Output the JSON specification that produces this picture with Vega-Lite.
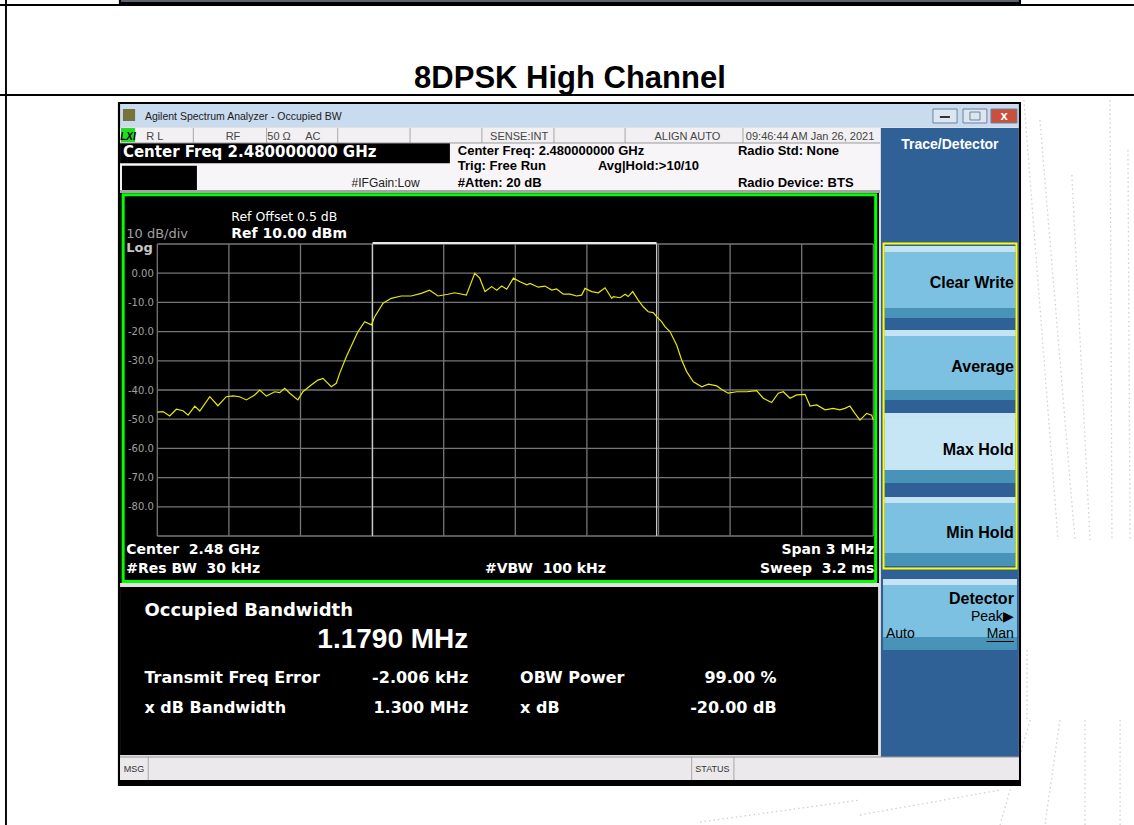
{
"$schema": "https://vega.github.io/schema/vega-lite/v6.json",
"width": 716, "height": 292,
"autosize": {"type": "none"},
"padding": {"left": 157.3, "top": 244, "right": 260.7, "bottom": 289},
"background": "white",
"config": {"view": {"stroke": null}},
"encoding": {
  "x": {"field": "f", "type": "quantitative", "scale": {"domain": [-1.5, 1.5], "nice": false, "zero": false}, "axis": null},
  "y": {"field": "db", "type": "quantitative", "scale": {"domain": [-90, 10], "nice": false, "zero": false},
        "axis": {"title": null, "values": [0, -10, -20, -30, -40, -50, -60, -70, -80], "labelExpr": "datum.value == 0 ? '0.00' : datum.value + '.0'", "labelFont": "DejaVu Sans", "labelFontSize": 10, "labelColor": "#a0a0a0", "domain": false, "ticks": false, "grid": false, "labelPadding": 4, "zindex": 1}}
},
"layer": [
  {"data": {"values": [
    {"f": 2.131, "f2": 2.274, "db": 59.32, "db2": -91.37},
    {"f": 2.198, "f2": 2.345, "db": 52.47, "db2": -91.37},
    {"f": 2.332, "f2": 2.408, "db": 33.63, "db2": -91.37},
    {"f": 2.492, "f2": 2.500, "db": 59.32, "db2": -91.37},
    {"f": 2.567, "f2": 2.576, "db": 42.19, "db2": -91.37},
    {"f": 2.144, "f2": 2.144, "db": -129.04, "db2": -153.01},
    {"f": 2.157, "f2": 2.031, "db": -153.01, "db2": -188.97},
    {"f": 2.282, "f2": 2.219, "db": -153.01, "db2": -188.97},
    {"f": 2.387, "f2": 2.387, "db": -153.01, "db2": -188.97},
    {"f": 2.534, "f2": 2.534, "db": -153.01, "db2": -188.97},
    {"f": 0.774, "f2": 1.444, "db": -187.95, "db2": -180.41},
    {"f": 1.444, "f2": 2.031, "db": -185.55, "db2": -176.99}
  ]},
   "mark": {"type": "rule", "color": "#d0d0d0", "strokeWidth": 1.3, "strokeDash": [1.5, 3]},
   "encoding": {"x2": {"field": "f2"}, "y2": {"field": "db2"}}},
  {"data": {"values": [
    {"f": -2.159, "f2": 2.592, "db": 92.19, "db2": 91.51, "part": "black"},
    {"f": -1.661, "f2": 2.119, "db": 93.56, "db2": 91.85, "part": "black"},
    {"f": -1.652, "f2": 2.110, "db": 93.56, "db2": 92.88, "part": "bar"},
    {"f": -2.159, "f2": 2.592, "db": 61.37, "db2": 60.69, "part": "black"},
    {"f": -2.138, "f2": -2.130, "db": 93.56, "db2": -188.97, "part": "black"},
    {"f": -1.665, "f2": 2.119, "db": 58.63, "db2": -175.62, "part": "black"},
    {"f": -1.656, "f2": 2.110, "db": 57.95, "db2": 50.07, "part": "titlebar"},
    {"f": -1.656, "f2": 2.110, "db": 50.07, "db2": -173.56, "part": "light"},
    {"f": -1.656, "f2": 1.528, "db": 49.73, "db2": 44.59, "part": "status"},
    {"f": -1.656, "f2": 1.528, "db": 44.59, "db2": 28.49, "part": "row2"},
    {"f": -1.656, "f2": -0.274, "db": 44.59, "db2": 37.64, "part": "black"},
    {"f": -1.648, "f2": -1.334, "db": 36.81, "db2": 28.25, "part": "black"},
    {"f": -1.656, "f2": 1.528, "db": 28.49, "db2": 27.47, "part": "band2"},
    {"f": -1.656, "f2": 1.524, "db": 27.47, "db2": -106.10, "part": "black"},
    {"f": -1.656, "f2": 1.520, "db": -107.47, "db2": -165.00, "part": "black"},
    {"f": 1.532, "f2": 2.110, "db": 49.73, "db2": -165.69, "part": "panel"},
    {"f": 1.547, "f2": 2.096, "db": 9.31, "db2": -11.92, "part": "btn"},
    {"f": 1.547, "f2": 2.096, "db": 9.31, "db2": 7.26, "part": "hl"},
    {"f": 1.547, "f2": 2.096, "db": -11.92, "db2": -15.34, "part": "band"},
    {"f": 1.547, "f2": 2.096, "db": -19.45, "db2": -40.00, "part": "btn"},
    {"f": 1.547, "f2": 2.096, "db": -19.45, "db2": -21.51, "part": "hl"},
    {"f": 1.547, "f2": 2.096, "db": -40.00, "db2": -43.42, "part": "band"},
    {"f": 1.547, "f2": 2.096, "db": -47.88, "db2": -67.40, "part": "sel"},
    {"f": 1.547, "f2": 2.096, "db": -47.88, "db2": -49.93, "part": "hl"},
    {"f": 1.547, "f2": 2.096, "db": -67.40, "db2": -71.85, "part": "band"},
    {"f": 1.547, "f2": 2.096, "db": -76.64, "db2": -95.82, "part": "btn"},
    {"f": 1.547, "f2": 2.096, "db": -76.64, "db2": -78.70, "part": "hl"},
    {"f": 1.547, "f2": 2.096, "db": -95.82, "db2": -100.27, "part": "band"},
    {"f": 1.541, "f2": 2.102, "db": -104.73, "db2": -124.59, "part": "btn"},
    {"f": 1.541, "f2": 2.102, "db": -104.73, "db2": -106.78, "part": "hl"},
    {"f": 1.541, "f2": 2.102, "db": -124.59, "db2": -129.04, "part": "band"},
    {"f": -1.656, "f2": 2.110, "db": -165.69, "db2": -173.56, "part": "statusbar"},
    {"f": -1.652, "f2": -1.593, "db": 49.73, "db2": 44.93, "part": "lxi"},
    {"f": -1.644, "f2": -1.593, "db": 56.23, "db2": 52.12, "part": "icon"},
    {"f": 1.750, "f2": 1.851, "db": 56.23, "db2": 51.44, "part": "winbtn"},
    {"f": 1.876, "f2": 1.976, "db": 56.23, "db2": 51.44, "part": "winbtn"},
    {"f": 1.993, "f2": 2.102, "db": 56.23, "db2": 51.44, "part": "close"},
    {"f": 1.779, "f2": 1.821, "db": 53.84, "db2": 53.15, "part": "glyph"}
  ]},
   "mark": {"type": "rect"},
   "encoding": {
     "x2": {"field": "f2"}, "y2": {"field": "db2"},
     "fill": {"field": "part", "type": "nominal", "legend": null, "scale": {
       "domain": ["black", "bar", "titlebar", "light", "status", "row2", "band2", "panel", "btn", "hl", "band", "sel", "statusbar", "lxi", "icon", "winbtn", "close", "glyph"],
       "range": ["#000000", "#5c6470", "#c9dbef", "#e2e0e2", "#f2f0f2", "#f7f5f7", "#a4a4a4", "#2f6096", "#7cc1e1", "#c4e4f4", "#4a93b8", "#c6e6f6", "#ebe9eb", "#22dd22", "#77733a", "#dce6f1", "#c9503c", "#333333"]}}
   }},
  {"data": {"values": [
    {"f": 1.750, "f2": 1.851, "db": 56.23, "db2": 51.44},
    {"f": 1.876, "f2": 1.976, "db": 56.23, "db2": 51.44},
    {"f": 1.993, "f2": 2.102, "db": 56.23, "db2": 51.44},
    {"f": 1.905, "f2": 1.947, "db": 55.19, "db2": 52.47}
  ]},
   "mark": {"type": "rect", "filled": false, "color": "#6f829a", "strokeWidth": 1},
   "encoding": {"x2": {"field": "f2"}, "y2": {"field": "db2"}}},
  {"data": {"values": [{"f": -1.643, "f2": 1.510, "db": 26.88, "db2": -105.58}]},
   "mark": {"type": "rect", "filled": false, "color": "#00ff00", "strokeWidth": 3},
   "encoding": {"x2": {"field": "f2"}, "y2": {"field": "db2"}}},
  {"data": {"values": [{"f": 1.543, "f2": 2.100, "db": 10.17, "db2": -101.13}]},
   "mark": {"type": "rect", "filled": false, "color": "#ffff00", "strokeWidth": 2},
   "encoding": {"x2": {"field": "f2"}, "y2": {"field": "db2"}}},
  {"data": {"values": [
    {"f": -1.349, "db": 49.73, "db2": 44.59}, {"f": -1.042, "db": 49.73, "db2": 44.59},
    {"f": -0.744, "db": 49.73, "db2": 44.59}, {"f": -0.441, "db": 49.73, "db2": 44.59},
    {"f": -0.140, "db": 49.73, "db2": 44.59}, {"f": 0.162, "db": 49.73, "db2": 44.59},
    {"f": 0.460, "db": 49.73, "db2": 44.59}, {"f": 0.954, "db": 49.73, "db2": 44.59},
    {"f": -1.538, "db": -165.69, "db2": -173.56}, {"f": 0.739, "db": -165.69, "db2": -173.56},
    {"f": 0.916, "db": -165.69, "db2": -173.56}
  ]},
   "mark": {"type": "rule", "color": "#a8a8a8", "strokeWidth": 1},
   "encoding": {"y2": {"field": "db2"}}},
  {"data": {"values": [
    {"f": -1.656, "f2": 1.528, "db": 44.59}, {"f": -1.656, "f2": 2.110, "db": -165.69}
  ]},
   "mark": {"type": "rule", "color": "#9a9a9a", "strokeWidth": 1},
   "encoding": {"x2": {"field": "f2"}}},
  {"data": {"values": [
    {"f": -1.5, "db": 10, "db2": -90}, {"f": -1.2, "db": 10, "db2": -90}, {"f": -0.9, "db": 10, "db2": -90},
    {"f": -0.6, "db": 10, "db2": -90}, {"f": -0.3, "db": 10, "db2": -90}, {"f": 0, "db": 10, "db2": -90},
    {"f": 0.3, "db": 10, "db2": -90}, {"f": 0.6, "db": 10, "db2": -90}, {"f": 0.9, "db": 10, "db2": -90},
    {"f": 1.2, "db": 10, "db2": -90}, {"f": 1.5, "db": 10, "db2": -90}
  ]},
   "mark": {"type": "rule", "color": "#767676", "strokeWidth": 1.3},
   "encoding": {"y2": {"field": "db2"}}},
  {"data": {"values": [
    {"db": 10, "f": -1.5, "f2": 1.5}, {"db": 0, "f": -1.5, "f2": 1.5}, {"db": -10, "f": -1.5, "f2": 1.5},
    {"db": -20, "f": -1.5, "f2": 1.5}, {"db": -30, "f": -1.5, "f2": 1.5}, {"db": -40, "f": -1.5, "f2": 1.5},
    {"db": -50, "f": -1.5, "f2": 1.5}, {"db": -60, "f": -1.5, "f2": 1.5}, {"db": -70, "f": -1.5, "f2": 1.5},
    {"db": -80, "f": -1.5, "f2": 1.5}, {"db": -90, "f": -1.5, "f2": 1.5}
  ]},
   "mark": {"type": "rule", "color": "#767676", "strokeWidth": 1.3},
   "encoding": {"x2": {"field": "f2"}}},
  {"data": {"values": [{"f": -0.598, "db": 10, "db2": -90}, {"f": 0.592, "db": 10, "db2": -90}]},
   "mark": {"type": "rule", "color": "#c8c8c8", "strokeWidth": 1.2},
   "encoding": {"y2": {"field": "db2"}}},
  {"data": {"values": [{"f": -0.598, "f2": 0.592, "db": 10.35}]},
   "mark": {"type": "rule", "color": "#e8e8e8", "strokeWidth": 2},
   "encoding": {"x2": {"field": "f2"}}},
  {"data": {"values": [{"f": 1.975, "f2": 2.089, "db": -126.13}]},
   "mark": {"type": "rule", "color": "#000000", "strokeWidth": 1},
   "encoding": {"x2": {"field": "f2"}}},
  {"data": {"values": [
    {"f": -1.5, "db": -47.6}, {"f": -1.476, "db": -47.4}, {"f": -1.448, "db": -48.9}, {"f": -1.42, "db": -46.6},
    {"f": -1.392, "db": -47.1}, {"f": -1.371, "db": -48.6}, {"f": -1.343, "db": -45.5}, {"f": -1.322, "db": -47.2},
    {"f": -1.28, "db": -42.3}, {"f": -1.246, "db": -45.4}, {"f": -1.211, "db": -42.3}, {"f": -1.183, "db": -42.0},
    {"f": -1.155, "db": -42.3}, {"f": -1.127, "db": -43.4}, {"f": -1.092, "db": -41.7}, {"f": -1.071, "db": -40.0},
    {"f": -1.043, "db": -42.1}, {"f": -1.008, "db": -40.6}, {"f": -0.987, "db": -40.9}, {"f": -0.966, "db": -39.4},
    {"f": -0.945, "db": -41.1}, {"f": -0.911, "db": -43.4}, {"f": -0.89, "db": -40.6}, {"f": -0.855, "db": -38.3},
    {"f": -0.827, "db": -36.6}, {"f": -0.806, "db": -36.0}, {"f": -0.771, "db": -38.9}, {"f": -0.75, "db": -37.7},
    {"f": -0.736, "db": -34.3}, {"f": -0.708, "db": -28.6}, {"f": -0.659, "db": -20.0}, {"f": -0.631, "db": -16.6},
    {"f": -0.603, "db": -17.7}, {"f": -0.589, "db": -14.9}, {"f": -0.554, "db": -10.3}, {"f": -0.52, "db": -8.6},
    {"f": -0.478, "db": -7.8}, {"f": -0.436, "db": -7.8}, {"f": -0.394, "db": -6.9}, {"f": -0.359, "db": -5.8},
    {"f": -0.324, "db": -7.8}, {"f": -0.282, "db": -7.2}, {"f": -0.254, "db": -6.7}, {"f": -0.205, "db": -7.5},
    {"f": -0.17, "db": 0.0}, {"f": -0.149, "db": -1.7}, {"f": -0.127, "db": -6.3}, {"f": -0.099, "db": -4.6},
    {"f": -0.078, "db": -5.8}, {"f": -0.057, "db": -4.4}, {"f": -0.036, "db": -5.5}, {"f": -0.008, "db": -1.7},
    {"f": 0.02, "db": -2.9}, {"f": 0.048, "db": -4.0}, {"f": 0.062, "db": -3.5}, {"f": 0.096, "db": -4.8},
    {"f": 0.124, "db": -4.4}, {"f": 0.153, "db": -5.8}, {"f": 0.173, "db": -5.4}, {"f": 0.201, "db": -7.2},
    {"f": 0.229, "db": -7.2}, {"f": 0.257, "db": -7.8}, {"f": 0.278, "db": -7.5}, {"f": 0.292, "db": -5.2},
    {"f": 0.32, "db": -6.3}, {"f": 0.348, "db": -6.7}, {"f": 0.376, "db": -5.0}, {"f": 0.404, "db": -8.6},
    {"f": 0.411, "db": -8.0}, {"f": 0.439, "db": -8.4}, {"f": 0.46, "db": -7.2}, {"f": 0.473, "db": -8.0},
    {"f": 0.492, "db": -6.3}, {"f": 0.515, "db": -9.2}, {"f": 0.536, "db": -11.5}, {"f": 0.557, "db": -13.2},
    {"f": 0.578, "db": -13.5}, {"f": 0.592, "db": -14.9}, {"f": 0.613, "db": -16.6}, {"f": 0.627, "db": -18.3},
    {"f": 0.648, "db": -20.0}, {"f": 0.676, "db": -24.6}, {"f": 0.697, "db": -29.7}, {"f": 0.718, "db": -33.7},
    {"f": 0.746, "db": -37.2}, {"f": 0.781, "db": -38.9}, {"f": 0.809, "db": -38.0}, {"f": 0.844, "db": -38.6},
    {"f": 0.865, "db": -39.8}, {"f": 0.892, "db": -41.1}, {"f": 0.928, "db": -40.6}, {"f": 0.97, "db": -40.6},
    {"f": 1.011, "db": -40.2}, {"f": 1.039, "db": -42.8}, {"f": 1.074, "db": -44.3}, {"f": 1.102, "db": -41.1},
    {"f": 1.123, "db": -40.6}, {"f": 1.151, "db": -42.8}, {"f": 1.179, "db": -41.7}, {"f": 1.214, "db": -41.5},
    {"f": 1.235, "db": -45.5}, {"f": 1.263, "db": -45.1}, {"f": 1.298, "db": -46.8}, {"f": 1.332, "db": -46.3},
    {"f": 1.36, "db": -46.8}, {"f": 1.381, "db": -46.3}, {"f": 1.402, "db": -45.5}, {"f": 1.423, "db": -48.0},
    {"f": 1.444, "db": -50.3}, {"f": 1.472, "db": -48.0}, {"f": 1.493, "db": -48.6}, {"f": 1.5, "db": -50.3}
  ]},
   "mark": {"type": "line", "color": "#e8e800", "strokeWidth": 1.2}},
  {"data": {"values": [{"f": 0.229, "db": 63.42, "t": "8DPSK High Channel"}]},
   "mark": {"type": "text", "font": "Liberation Sans", "fontSize": 31, "fontWeight": "bold", "color": "#000000", "align": "center", "baseline": "alphabetic"},
   "encoding": {"text": {"field": "t"}}},
  {"data": {"values": [{"f": -1.552, "db": 52.47, "t": "Agilent Spectrum Analyzer - Occupied BW"}]},
   "mark": {"type": "text", "font": "Liberation Sans", "fontSize": 10.5, "color": "#1a1a1a", "align": "left", "baseline": "alphabetic"},
   "encoding": {"text": {"field": "t"}}},
  {"data": {"values": [
    {"f": -1.510, "db": 45.62, "t": "R L"}, {"f": -1.183, "db": 45.62, "t": "RF"},
    {"f": -0.990, "db": 45.62, "t": "50 Ω"}, {"f": -0.848, "db": 45.62, "t": "AC"},
    {"f": 0.016, "db": 45.62, "t": "SENSE:INT"}, {"f": 0.721, "db": 45.62, "t": "ALIGN AUTO"},
    {"f": 1.235, "db": 45.62, "t": "09:46:44 AM Jan 26, 2021"}
  ]},
   "mark": {"type": "text", "font": "Liberation Sans", "fontSize": 11, "color": "#454545", "align": "center", "baseline": "alphabetic"},
   "encoding": {"text": {"field": "t"}}},
  {"data": {"values": [{"f": -1.623, "db": 45.62, "t": "LXI"}]},
   "mark": {"type": "text", "font": "Liberation Sans", "fontSize": 10, "fontWeight": "bold", "fontStyle": "italic", "color": "#000000", "align": "center", "baseline": "alphabetic"},
   "encoding": {"text": {"field": "t"}}},
  {"data": {"values": [{"f": -1.644, "db": 39.69, "t": "Center Freq 2.480000000 GHz"}]},
   "mark": {"type": "text", "font": "DejaVu Sans", "fontSize": 15, "fontWeight": "bold", "color": "#ffffff", "align": "left", "baseline": "alphabetic"},
   "encoding": {"text": {"field": "t"}}},
  {"data": {"values": [
    {"f": -0.241, "db": 40.48, "t": "Center Freq: 2.480000000 GHz"},
    {"f": -0.241, "db": 35.34, "t": "Trig: Free Run"},
    {"f": -0.241, "db": 29.69, "t": "#Atten: 20 dB"},
    {"f": 0.346, "db": 35.34, "t": "Avg|Hold:>10/10"},
    {"f": 0.933, "db": 40.48, "t": "Radio Std: None"},
    {"f": 0.933, "db": 29.69, "t": "Radio Device: BTS"}
  ]},
   "mark": {"type": "text", "font": "Liberation Sans", "fontSize": 13, "fontWeight": "bold", "color": "#000000", "align": "left", "baseline": "alphabetic"},
   "encoding": {"text": {"field": "t"}}},
  {"data": {"values": [{"f": -0.686, "db": 29.42, "t": "#IFGain:Low"}]},
   "mark": {"type": "text", "font": "Liberation Sans", "fontSize": 12, "color": "#222222", "align": "left", "baseline": "alphabetic"},
   "encoding": {"text": {"field": "t"}}},
  {"data": {"values": [{"f": -1.190, "db": 17.98, "t": "Ref Offset 0.5 dB"}]},
   "mark": {"type": "text", "font": "DejaVu Sans", "fontSize": 12.5, "color": "#ffffff", "align": "left", "baseline": "alphabetic"},
   "encoding": {"text": {"field": "t"}}},
  {"data": {"values": [
    {"f": -1.190, "db": 12.16, "t": "Ref 10.00 dBm"},
    {"f": -1.630, "db": -96.16, "t": "Center\u00a0 2.48 GHz"},
    {"f": -1.630, "db": -102.77, "t": "#Res BW\u00a0 30 kHz"},
    {"f": -0.127, "db": -102.77, "t": "#VBW\u00a0 100 kHz"}
  ]},
   "mark": {"type": "text", "font": "DejaVu Sans", "fontSize": 14, "fontWeight": "bold", "color": "#ffffff", "align": "left", "baseline": "alphabetic"},
   "encoding": {"text": {"field": "t"}}},
  {"data": {"values": [
    {"f": 1.504, "db": -96.16, "t": "Span 3 MHz"},
    {"f": 1.504, "db": -102.77, "t": "Sweep\u00a0 3.2 ms"}
  ]},
   "mark": {"type": "text", "font": "DejaVu Sans", "fontSize": 14, "fontWeight": "bold", "color": "#ffffff", "align": "right", "baseline": "alphabetic"},
   "encoding": {"text": {"field": "t"}}},
  {"data": {"values": [{"f": -1.630, "db": 12.16, "t": "10 dB/div"}]},
   "mark": {"type": "text", "font": "DejaVu Sans", "fontSize": 13, "color": "#a0a0a0", "align": "left", "baseline": "alphabetic"},
   "encoding": {"text": {"field": "t"}}},
  {"data": {"values": [{"f": -1.630, "db": 7.16, "t": "Log"}]},
   "mark": {"type": "text", "font": "DejaVu Sans", "fontSize": 13, "fontWeight": "bold", "color": "#c8c8c8", "align": "left", "baseline": "alphabetic"},
   "encoding": {"text": {"field": "t"}}},
  {"data": {"values": [{"f": -1.554, "db": -117.40, "t": "Occupied Bandwidth"}]},
   "mark": {"type": "text", "font": "DejaVu Sans", "fontSize": 18, "fontWeight": "bold", "color": "#ffffff", "align": "left", "baseline": "alphabetic"},
   "encoding": {"text": {"field": "t"}}},
  {"data": {"values": [{"f": -0.197, "db": -128.46, "t": "1.1790 MHz"}]},
   "mark": {"type": "text", "font": "Liberation Sans", "fontSize": 28, "fontWeight": "bold", "color": "#ffffff", "align": "right", "baseline": "alphabetic"},
   "encoding": {"text": {"field": "t"}}},
  {"data": {"values": [
    {"f": -1.554, "db": -140.2, "t": "Transmit Freq Error"},
    {"f": -1.554, "db": -150.6, "t": "x dB Bandwidth"},
    {"f": 0.020, "db": -140.2, "t": "OBW Power"},
    {"f": 0.020, "db": -150.6, "t": "x dB"}
  ]},
   "mark": {"type": "text", "font": "DejaVu Sans", "fontSize": 16, "fontWeight": "bold", "color": "#ffffff", "align": "left", "baseline": "alphabetic"},
   "encoding": {"text": {"field": "t"}}},
  {"data": {"values": [
    {"f": -0.197, "db": -140.2, "t": "-2.006 kHz"},
    {"f": -0.197, "db": -150.6, "t": "1.300 MHz"},
    {"f": 1.095, "db": -140.2, "t": "99.00 %"},
    {"f": 1.095, "db": -150.6, "t": "-20.00 dB"}
  ]},
   "mark": {"type": "text", "font": "DejaVu Sans", "fontSize": 16, "fontWeight": "bold", "color": "#ffffff", "align": "right", "baseline": "alphabetic"},
   "encoding": {"text": {"field": "t"}}},
  {"data": {"values": [{"f": 1.821, "db": 42.43, "t": "Trace/Detector"}]},
   "mark": {"type": "text", "font": "Liberation Sans", "fontSize": 14, "fontWeight": "bold", "color": "#ffffff", "align": "center", "baseline": "alphabetic"},
   "encoding": {"text": {"field": "t"}}},
  {"data": {"values": [
    {"f": 2.089, "db": -5.17, "t": "Clear Write"},
    {"f": 2.089, "db": -33.73, "t": "Average"},
    {"f": 2.089, "db": -62.26, "t": "Max Hold"},
    {"f": 2.089, "db": -90.79, "t": "Min Hold"},
    {"f": 2.089, "db": -113.29, "t": "Detector"}
  ]},
   "mark": {"type": "text", "font": "Liberation Sans", "fontSize": 16, "fontWeight": "bold", "color": "#000000", "align": "right", "baseline": "alphabetic"},
   "encoding": {"text": {"field": "t"}}},
  {"data": {"values": [
    {"f": 2.089, "db": -119.01, "t": "Peak▶"},
    {"f": 2.089, "db": -125.03, "t": "Man"}
  ]},
   "mark": {"type": "text", "font": "Liberation Sans", "fontSize": 14, "color": "#000000", "align": "right", "baseline": "alphabetic"},
   "encoding": {"text": {"field": "t"}}},
  {"data": {"values": [{"f": 1.553, "db": -125.03, "t": "Auto"}]},
   "mark": {"type": "text", "font": "Liberation Sans", "fontSize": 14, "color": "#000000", "align": "left", "baseline": "alphabetic"},
   "encoding": {"text": {"field": "t"}}},
  {"data": {"values": [
    {"f": -1.598, "db": -170.82, "t": "MSG"},
    {"f": 0.826, "db": -170.82, "t": "STATUS"}
  ]},
   "mark": {"type": "text", "font": "Liberation Sans", "fontSize": 9, "color": "#333333", "align": "center", "baseline": "alphabetic"},
   "encoding": {"text": {"field": "t"}}},
  {"data": {"values": [{"f": 2.048, "db": 52.47, "t": "x"}]},
   "mark": {"type": "text", "font": "Liberation Sans", "fontSize": 13, "fontWeight": "bold", "color": "#ffffff", "align": "center", "baseline": "alphabetic"},
   "encoding": {"text": {"field": "t"}}}
]
}
